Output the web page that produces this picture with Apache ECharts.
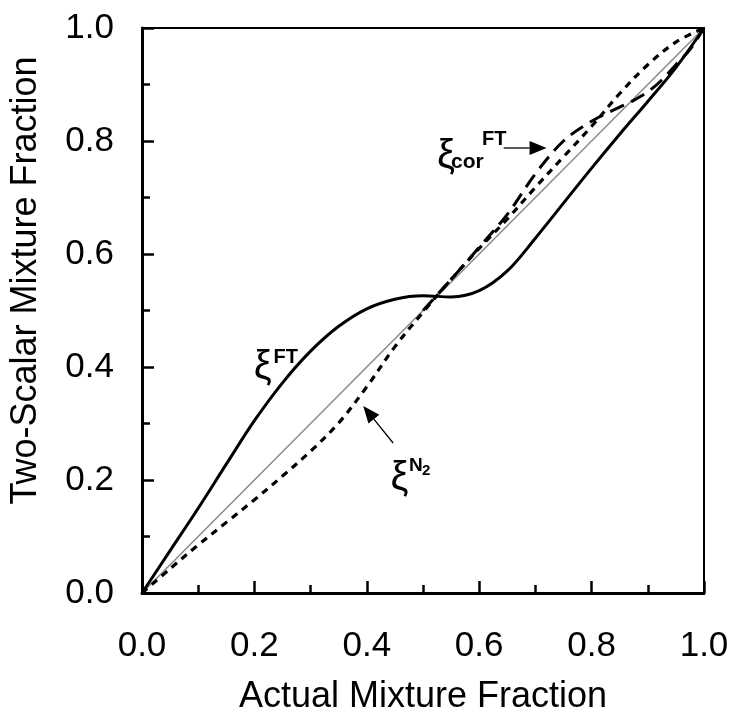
<!DOCTYPE html>
<html><head><meta charset="utf-8">
<script src="https://cdn.jsdelivr.net/npm/echarts/dist/echarts.min.js"></script>
<style>html,body{margin:0;padding:0;background:#fff}#c{width:735px;height:720px}</style>
</head><body><div id="c"></div>
<script>
// ---- data ----
const xTickLabels = ['0.0','0.2','0.4','0.6','0.8','1.0'];
const yTickLabels = ['0.0','0.2','0.4','0.6','0.8','1.0'];
const xs   = [0,0.05,0.1,0.15,0.2,0.25,0.3,0.35,0.4,0.45,0.5,0.55,0.6,0.65,0.7,0.75,0.8,0.85,0.9,0.95,1];
const ftY  = [0,0.075,0.15,0.228,0.305,0.372,0.428,0.472,0.503,0.52,0.526,0.524,0.535,0.57,0.628,0.69,0.752,0.812,0.87,0.93,1];
const n2Y  = [0,0.043,0.085,0.125,0.165,0.207,0.251,0.301,0.365,0.436,0.497,0.555,0.61,0.662,0.718,0.772,0.826,0.884,0.935,0.975,1];
const corX = [0.5,0.55,0.6,0.65,0.7,0.75,0.8,0.85,0.875,0.9,0.925,0.95,0.975,1];
const corY = [0.5,0.555,0.612,0.67,0.742,0.8,0.835,0.86,0.872,0.887,0.908,0.935,0.962,1];
const diagX = [0,1];
const diagY = [0,1];

const SANS = '"Liberation Sans", Arial, Helvetica, sans-serif';
const GREEK = '"Liberation Sans", Arial, sans-serif';

const chart = echarts.init(document.getElementById('c'), null, {renderer:'canvas'});
const axisCommon = {
  type:'value', min:0, max:1, interval:0.2,
  axisLine:{show:true, onZero:false, lineStyle:{color:'#000', width:3}},
  axisTick:{show:true, inside:true, length:12, lineStyle:{color:'#000', width:2.5}},
  minorTick:{show:true, splitNumber:2, length:8, lineStyle:{color:'#000', width:2.5}},
  splitLine:{show:false}, minorSplitLine:{show:false},
  nameLocation:'middle'
};
chart.setOption({
  animation:false,
  backgroundColor:'#fff',
  grid:{left:140, right:31, top:28, bottom:127, show:true, borderColor:'#000', borderWidth:2, backgroundColor:'transparent'},
  xAxis:Object.assign({}, axisCommon, {
    name:'Actual Mixture Fraction', nameGap:86,
    nameTextStyle:{fontFamily:SANS, fontSize:36, color:'#000'},
    axisLabel:{margin:36, fontFamily:SANS, fontSize:35, color:'#000',
      formatter:(v)=>xTickLabels[Math.round(v/0.2)]}
  }),
  yAxis:Object.assign({}, axisCommon, {
    name:'Two-Scalar Mixture Fraction', nameGap:98,
    nameTextStyle:{fontFamily:SANS, fontSize:36, color:'#000', padding:[0,0,0,60]},
    axisLabel:{margin:28, fontFamily:SANS, fontSize:35, color:'#000',
      formatter:(v)=>yTickLabels[Math.round(v/0.2)]}
  }),
  series:[
    {type:'line', name:'diag', data:diagX.map((x,i)=>[x,diagY[i]]), symbol:'none', silent:true,
     lineStyle:{color:'#8a8a8a', width:1.5}, z:1},
    {type:'line', name:'FT', data:xs.map((x,i)=>[x,ftY[i]]), symbol:'none', smooth:0.35,
     lineStyle:{color:'#000', width:3}, z:3},
    {type:'line', name:'N2', data:xs.map((x,i)=>[x,n2Y[i]]), symbol:'none', smooth:0.35,
     lineStyle:{color:'#000', width:3.2, type:[7,6]}, z:3},
    {type:'line', name:'cor', data:corX.map((x,i)=>[x,corY[i]]), symbol:'none', smooth:0.35,
     lineStyle:{color:'#000', width:3, type:[15,8]}, z:3}
  ]
});

// ---- annotations (anchored in data coordinates) ----
const labels = [
  {t:'\u03BE', at:[0.199,0.398],  font:'40px '+GREEK},
  {t:'FT',     at:[0.234,0.4177], font:'bold 20px '+SANS},
  {t:'\u03BE', at:[0.442,0.201],  font:'40px '+GREEK},
  {t:'N',      at:[0.475,0.225],  font:'bold 19px '+SANS},
  {t:'2',      at:[0.498,0.216],  font:'bold 15px '+SANS},
  {t:'\u03BE', at:[0.525,0.771],  font:'40px '+GREEK},
  {t:'cor',    at:[0.55,0.763],   font:'bold 21px '+SANS},
  {t:'FT',     at:[0.605,0.802],  font:'bold 20px '+SANS}
];
const arrows = [
  {from:[0.6436,0.7876], to:[0.7199,0.7876]},
  {from:[0.4468,0.2655], to:[0.3936,0.331]}
];
const g = [];
labels.forEach(l=>{
  const p = chart.convertToPixel({gridIndex:0}, l.at);
  g.push({type:'text', silent:true, z:10, style:{text:l.t, x:p[0], y:p[1], font:l.font, fill:'#000',
    textAlign:'left', align:'left', textVerticalAlign:'middle', verticalAlign:'middle'}});
});
arrows.forEach(a=>{
  const p0 = chart.convertToPixel({gridIndex:0}, a.from);
  const p1 = chart.convertToPixel({gridIndex:0}, a.to);
  const dx = p1[0]-p0[0], dy = p1[1]-p0[1], L = Math.hypot(dx,dy);
  const ux = dx/L, uy = dy/L, hl = 17, hw = 7;
  const bx = p1[0]-ux*hl, by = p1[1]-uy*hl;
  g.push({type:'line', silent:true, z:10, shape:{x1:p0[0], y1:p0[1], x2:bx, y2:by}, style:{stroke:'#000', lineWidth:1.3}});
  g.push({type:'polygon', silent:true, z:10, shape:{points:[[p1[0],p1[1]],[bx-uy*hw, by+ux*hw],[bx+uy*hw, by-ux*hw]]}, style:{fill:'#000'}});
});
chart.setOption({graphic:g});
</script></body></html>
